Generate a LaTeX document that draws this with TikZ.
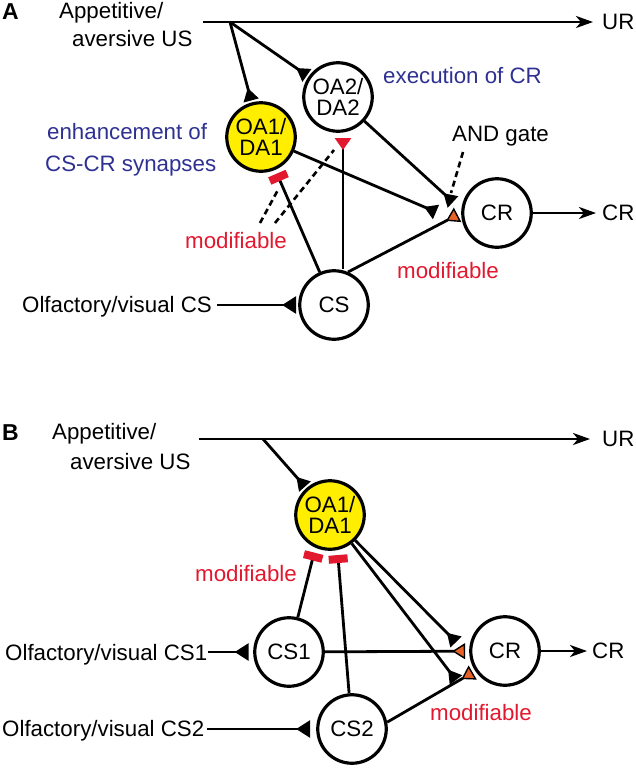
\documentclass[tikz,border=0pt]{standalone}
\usepackage{fontspec}
\setmainfont{Liberation Sans}
\usetikzlibrary{arrows.meta,calc}
\definecolor{nblue}{RGB}{46,49,146}
\definecolor{mred}{RGB}{226,24,46}
\definecolor{syorange}{RGB}{232,98,40}
\definecolor{nyellow}{RGB}{255,238,0}
\begin{document}
\begin{tikzpicture}[x=1pt,y=-1pt,
  every node/.style={font=\fontsize{22.3}{22}\selectfont, inner sep=0pt},
  neuron/.style={circle, draw, line width=3.2pt, minimum size=68.5pt, align=center, fill=white, font=\fontsize{22.3}{21.5}\selectfont},
  yneuron/.style={neuron, fill=nyellow},
  panel/.style={font=\fontsize{23}{24}\selectfont\bfseries, anchor=base west},
  txt/.style={anchor=base west},
  bluetxt/.style={anchor=base west, text=nblue},
  redtxt/.style={anchor=base west, text=mred},
  conn/.style={line width=2.8pt},
  syn/.style={conn, -{Triangle[reversed,length=13pt,width=15pt]}},
  insyn/.style={conn, -{Triangle[reversed,length=14pt,width=17pt]}},
  modsyn/.style={conn, -{Triangle[reversed,length=13pt,width=16pt,fill=syorange,line width=1.4pt]}},
  redtri/.style={conn, -{Triangle[reversed,length=12pt,width=16pt,color=mred]}},
  redbar/.style={conn, -{Rectangle[length=8pt,width=19pt,color=mred]}},
  outarrow/.style={conn, -{Stealth[length=17pt,width=12pt,inset=5pt]}},
  dashline/.style={line width=2.6pt, dash pattern=on 6pt off 4pt}]
\useasboundingbox (0,0) rectangle (636,769);

% ---------------- Panel A ----------------
\node[panel] (lblA) at (2,19) {A};
\node[txt] (usA1) at (59,18) {Appetitive/};
\node[txt] (usA2) at (72,46) {aversive US};
\coordinate (usAs) at (203,22);
\coordinate (brA) at (230,22);
\node[anchor=west] (urA) at (602,22) {UR};

\node[yneuron] (oa1A) at (261,137) {OA1/\\DA1};
\node[neuron] (oa2A) at (338,97) {OA2/\\DA2};
\node[neuron] (crA) at (497,213) {CR};
\node[neuron] (csA) at (334,305) {CS};
\node[anchor=west] (crAout) at (602,213) {CR};
\node[txt] (olfA) at (22,312) {Olfactory/visual CS};

\node[bluetxt] (execA) at (383,83) {execution of CR};
\node[bluetxt] (enhA1) at (47,139) {enhancement of};
\node[bluetxt] (enhA2) at (45,171) {CS-CR synapses};
\node[txt] (andA) at (452,141) {AND gate};
\node[redtxt] (modA1) at (185,248) {modifiable};
\node[redtxt] (modA2) at (397,278) {modifiable};

\coordinate (oa2tri) at (343,138);
\coordinate (syA1) at (436,212);
\coordinate (syA2) at (453,202);

\draw[outarrow, shorten >=9pt] (usAs) -- (urA.west);
\draw[syn, shorten >=2pt] (brA) -- (oa1A);
\draw[syn, shorten >=2pt] (brA) -- (oa2A);
\draw[redbar, shorten >=4pt] (csA) -- (oa1A);
\draw[redtri] (csA.north -| oa2tri) -- (oa2tri);
\draw[syn] (oa1A) -- (syA1);
\draw[syn] (oa2A) -- (syA2);
\draw[modsyn, shorten >=4pt] (csA.67) -- (crA.west);
\draw[outarrow, shorten >=6pt] (crA) -- (crAout.west);
\draw[insyn, shorten <=5pt, shorten >=2pt] (olfA.east |- csA) -- (csA);

\coordinate (dA1s) at (463,152);
\coordinate (dA1e) at (451,193);
\draw[dashline] (dA1s) -- (dA1e);
\coordinate (dA2s) at (260,223);
\coordinate (dA2e) at (279,188);
\draw[dashline] (dA2s) -- (dA2e);
\coordinate (dA3s) at (275,223);
\coordinate (dA3e) at (334,150);
\draw[dashline] (dA3s) -- (dA3e);

% ---------------- Panel B ----------------
\node[panel] (lblB) at (2,440) {B};
\node[txt] (usB1) at (52,439) {Appetitive/};
\node[txt] (usB2) at (70,469) {aversive US};
\coordinate (usBs) at (199,439);
\coordinate (brB) at (263,439);
\node[anchor=west] (urB) at (602,439) {UR};

\node[yneuron] (oa1B) at (330,515) {OA1/\\DA1};
\node[neuron] (cs1) at (289,652) {CS1};
\node[neuron] (cs2) at (352,729) {CS2};
\node[neuron] (crB) at (505,651) {CR};
\node[anchor=west] (crBout) at (592,651) {CR};
\node[txt] (olfB1) at (5,660) {Olfactory/visual CS1};
\node[txt] (olfB2) at (2,736) {Olfactory/visual CS2};
\node[redtxt] (modB1) at (195,581) {modifiable};
\node[redtxt] (modB2) at (430,720) {modifiable};

\coordinate (synB1) at (456,642);
\coordinate (synB2) at (456,680);

\draw[outarrow, shorten >=12pt] (usBs) -- (urB.west);
\draw[syn, shorten >=2pt] (brB) -- (oa1B);
\draw[redbar, shorten >=5pt] (cs1) -- (oa1B.246);
\draw[redbar, shorten >=5pt] (cs2) -- (oa1B.282);
\draw[syn] (oa1B) -- (synB1);
\draw[syn] (oa1B) -- (synB2);
\draw[modsyn, shorten >=4pt] (cs1) -- (crB);
\draw[modsyn, shorten >=3pt] (cs2.11) -- (crB.214);
\draw[outarrow, shorten >=5pt] (crB) -- (crBout.west);
\draw[insyn, shorten <=1pt, shorten >=4.5pt] (olfB1.east |- cs1) -- (cs1);
\draw[insyn, shorten <=3pt, shorten >=6pt] (olfB2.east |- cs2) -- (cs2);
\end{tikzpicture}
\end{document}
